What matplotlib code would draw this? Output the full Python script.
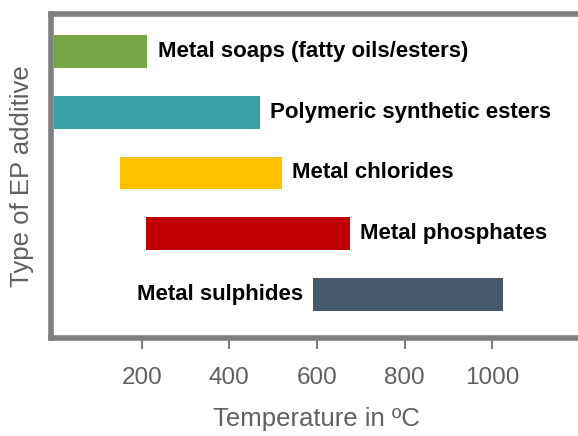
import matplotlib
matplotlib.use("Agg")
import matplotlib.pyplot as plt

# EP additive types with their effective temperature ranges (°C)
additives = [
    "Metal sulphides",
    "Metal phosphates",
    "Metal chlorides",
    "Polymeric synthetic esters",
    "Metal soaps (fatty oils/esters)",
]
temp_start = [590, 210, 150, 0, 0]
temp_end = [1025, 675, 520, 470, 213]
colors = ["#44596B", "#C00000", "#FFC000", "#3AA0A5", "#76A544"]
label_side = ["left", "right", "right", "right", "right"]

xticks = [200, 400, 600, 800, 1000]

plt.rcParams["font.family"] = ["Liberation Sans", "DejaVu Sans"]

fig = plt.figure(figsize=(5.78, 4.36), dpi=100)
ax = fig.add_axes([0.0875, 0.2248, 0.9194, 0.7432])

ypos = list(range(len(additives)))
widths = [e - s for s, e in zip(temp_start, temp_end)]
ax.barh(ypos, widths, left=temp_start, height=0.54, color=colors,
        edgecolor="none", zorder=2)

for y, s, e, name, side in zip(ypos, temp_start, temp_end, additives, label_side):
    if side == "right":
        ax.annotate(name, (e, y), xytext=(7.5, 0), textcoords="offset points",
                    ha="left", va="center", fontsize=16, fontweight="bold",
                    color="black")
    else:
        ax.annotate(name, (s, y), xytext=(-7, 0), textcoords="offset points",
                    ha="right", va="center", fontsize=16, fontweight="bold",
                    color="black")

ax.set_xlim(-8, 1205)
ax.set_ylim(-0.72, 4.62)

ax.set_xticks(xticks)
ax.set_xticklabels([str(t) for t in xticks])
ax.set_yticks([])

gray = "#7F7F7F"
for side in ["left", "top", "bottom"]:
    ax.spines[side].set_color(gray)
    ax.spines[side].set_linewidth(4)
ax.spines["right"].set_visible(False)

ax.tick_params(axis="x", colors=gray, length=8, width=1.5, direction="out",
               pad=13, labelsize=17.5, labelcolor="#606060")

ax.set_xlabel("Temperature in ºC", fontsize=18.5, color="#606060", labelpad=13)
ax.set_ylabel("Type of EP additive", fontsize=18.5, color="#606060", labelpad=12)

fig.savefig("out.png", dpi=100)
